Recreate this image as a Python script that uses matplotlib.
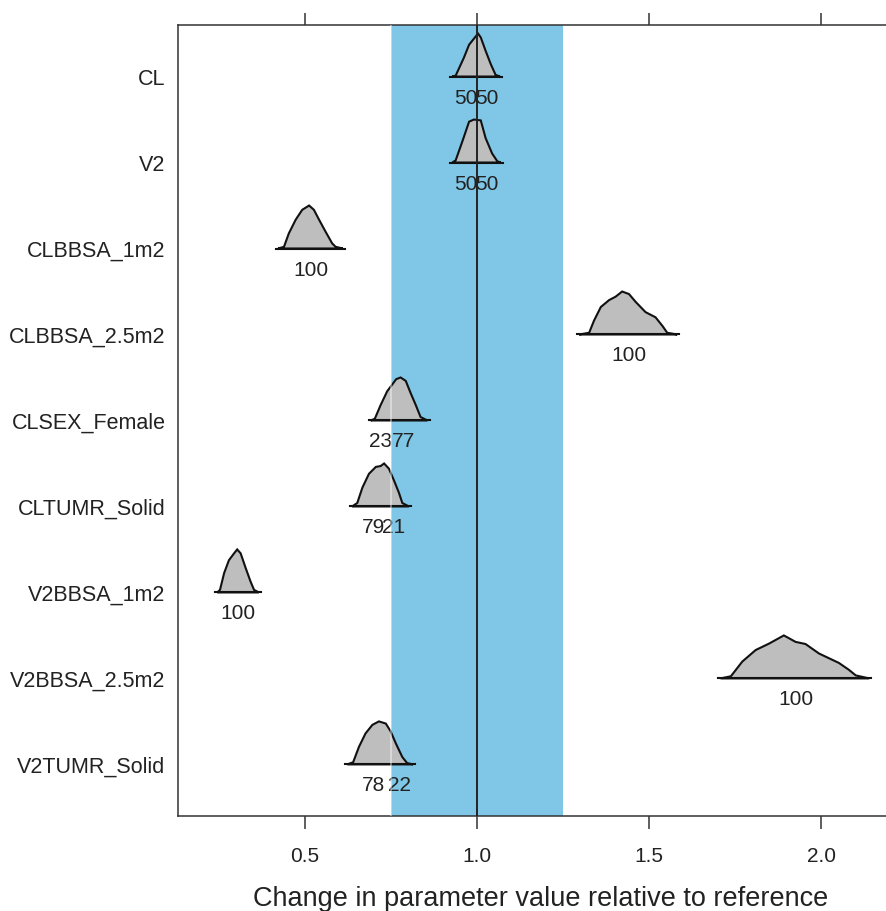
#!/usr/bin/env python
# -*- coding: utf-8 -*-
"""
Ridge-style density plot of parameter changes relative to reference,
with the +/-25% reference band and the reference line at 1.0.

Output:
    out.png
"""

import matplotlib
matplotlib.use("Agg")
import matplotlib.pyplot as plt


# =========================
# 1. Data
# =========================
PARAMS = [
    "CL", "V2", "CLBBSA_1m2", "CLBBSA_2.5m2", "CLSEX_Female",
    "CLTUMR_Solid", "V2BBSA_1m2", "V2BBSA_2.5m2", "V2TUMR_Solid",
]

# density outlines: x = ratio to reference, h = relative height (peak = 1)
CL_X = [0.928, 0.938, 0.962, 0.977, 0.986, 1.003, 1.011, 1.025, 1.040, 1.054, 1.067]
CL_H = [0.0, 0.02, 0.44, 0.74, 0.83, 1.0, 0.91, 0.60, 0.29, 0.04, 0.0]

V2_X = [0.928, 0.938, 0.957, 0.977, 0.991, 1.011, 1.025, 1.044, 1.059, 1.069]
V2_H = [0.0, 0.05, 0.48, 0.95, 1.0, 0.98, 0.57, 0.21, 0.03, 0.0]

CLBBSA1_X = [0.422, 0.439, 0.453, 0.473, 0.492, 0.512, 0.526, 0.541, 0.560, 0.579, 0.589, 0.610]
CLBBSA1_H = [0.0, 0.04, 0.35, 0.67, 0.90, 1.0, 0.90, 0.67, 0.39, 0.12, 0.04, 0.0]

CLBBSA25_X = [1.297, 1.326, 1.340, 1.360, 1.384, 1.403, 1.422, 1.442, 1.461,
              1.490, 1.519, 1.539, 1.553, 1.582]
CLBBSA25_H = [0.0, 0.04, 0.32, 0.64, 0.80, 0.88, 1.0, 0.94, 0.76,
              0.52, 0.40, 0.20, 0.04, 0.0]

CLSEX_X = [0.691, 0.703, 0.720, 0.739, 0.754, 0.765, 0.778, 0.793, 0.807, 0.822, 0.836, 0.856]
CLSEX_H = [0.0, 0.04, 0.36, 0.68, 0.84, 0.96, 1.0, 0.92, 0.64, 0.36, 0.08, 0.0]

CLTUMR_X = [0.637, 0.652, 0.667, 0.686, 0.706, 0.720, 0.730, 0.744, 0.759, 0.773, 0.783, 0.802]
CLTUMR_H = [0.0, 0.08, 0.44, 0.76, 0.92, 0.94, 1.0, 0.88, 0.60, 0.32, 0.08, 0.0]

V2BBSA1_X = [0.245, 0.253, 0.265, 0.279, 0.294, 0.303, 0.313, 0.328, 0.342, 0.352, 0.366]
V2BBSA1_H = [0.0, 0.06, 0.45, 0.75, 0.91, 1.0, 0.91, 0.56, 0.25, 0.06, 0.0]

V2BBSA25_X = [1.708, 1.738, 1.771, 1.810, 1.849, 1.892, 1.926, 1.955, 1.994,
              2.052, 2.081, 2.101, 2.140]
V2BBSA25_H = [0.0, 0.05, 0.39, 0.66, 0.81, 1.0, 0.85, 0.80, 0.58,
              0.36, 0.20, 0.07, 0.0]

V2TUMR_X = [0.623, 0.640, 0.657, 0.676, 0.696, 0.715, 0.735, 0.749, 0.764, 0.783, 0.797, 0.814]
V2TUMR_H = [0.0, 0.05, 0.41, 0.72, 0.92, 1.0, 0.95, 0.77, 0.49, 0.17, 0.03, 0.0]

DENS_X = [CL_X, V2_X, CLBBSA1_X, CLBBSA25_X, CLSEX_X, CLTUMR_X, V2BBSA1_X, V2BBSA25_X, V2TUMR_X]
DENS_H = [CL_H, V2_H, CLBBSA1_H, CLBBSA25_H, CLSEX_H, CLTUMR_H, V2BBSA1_H, V2BBSA25_H, V2TUMR_H]

# percent labels under each density and where they sit on the x scale
PCT_TEXT = [["50", "50"], ["50", "50"], ["100"], ["100"], ["23", "77"],
            ["79", "21"], ["100"], ["100"], ["78", "22"]]
PCT_X = [[0.968, 1.029], [0.968, 1.029], [0.517], [1.442], [0.721, 0.785],
         [0.698, 0.758], [0.305], [1.927], [0.698, 0.776]]

REF_VALUE = 1.0
BAND = (0.75, 1.25)
X_TICKS = [0.5, 1.0, 1.5, 2.0]
X_LABEL = "Change in parameter value relative to reference"


def main():
    plt.rcParams["font.family"] = ["Liberation Sans", "DejaVu Sans"]

    fig = plt.figure(figsize=(8.87, 9.11), dpi=100)
    # right edge of the panel runs past the figure, as in the reference
    ax = fig.add_axes([0.2007, 0.1043, 0.818, 0.8683])

    # reference band
    ax.axvspan(BAND[0], BAND[1], color="#80c7e7", lw=0, zorder=0)

    # -----------------------
    # Densities (row i at y = i + 1, peak height 0.5)
    # -----------------------
    for i, (xs, hs) in enumerate(zip(DENS_X, DENS_H)):
        base = i + 1
        ys = [base - 0.5 * h for h in hs]
        ax.fill(xs, ys, facecolor="#bebebe", edgecolor="#111111", lw=1.5, zorder=2)
        ax.plot([xs[0] - 0.006, xs[-1] + 0.006], [base, base], color="#111111", lw=1.5, zorder=2)
        for txt, tx in zip(PCT_TEXT[i], PCT_X[i]):
            ax.text(tx, base + 0.25, txt, ha="center", va="center",
                    fontsize=15, color="#222222", zorder=3)

    ax.axvline(BAND[0], color="white", lw=1.3, alpha=0.45, zorder=4)
    ax.axvline(REF_VALUE, color="#222222", lw=1.4, zorder=5)

    # -----------------------
    # Axes
    # -----------------------
    ax.set_xlim(0.131, 2.24)
    ax.set_ylim(len(PARAMS) + 0.6, 0.4)
    ax.set_yticks(range(1, len(PARAMS) + 1))
    ax.set_yticklabels(PARAMS, fontsize=15.5, color="#222222")
    ax.tick_params(axis="y", length=0, pad=9)

    ax.set_xticks(X_TICKS)
    ax.set_xticklabels([f"{t:.1f}" for t in X_TICKS], fontsize=15, color="#222222")
    ax.tick_params(axis="x", direction="out", length=9, width=1.1, pad=13,
                   top=True, labeltop=False, color="#333333")
    ax.set_xlabel(X_LABEL, fontsize=19.5, labelpad=15, color="#222222")

    for sp in ax.spines.values():
        sp.set_color("#333333")
        sp.set_linewidth(1.1)
    ax.spines["right"].set_visible(False)

    fig.savefig("out.png", dpi=100)
    plt.close(fig)


if __name__ == "__main__":
    main()
